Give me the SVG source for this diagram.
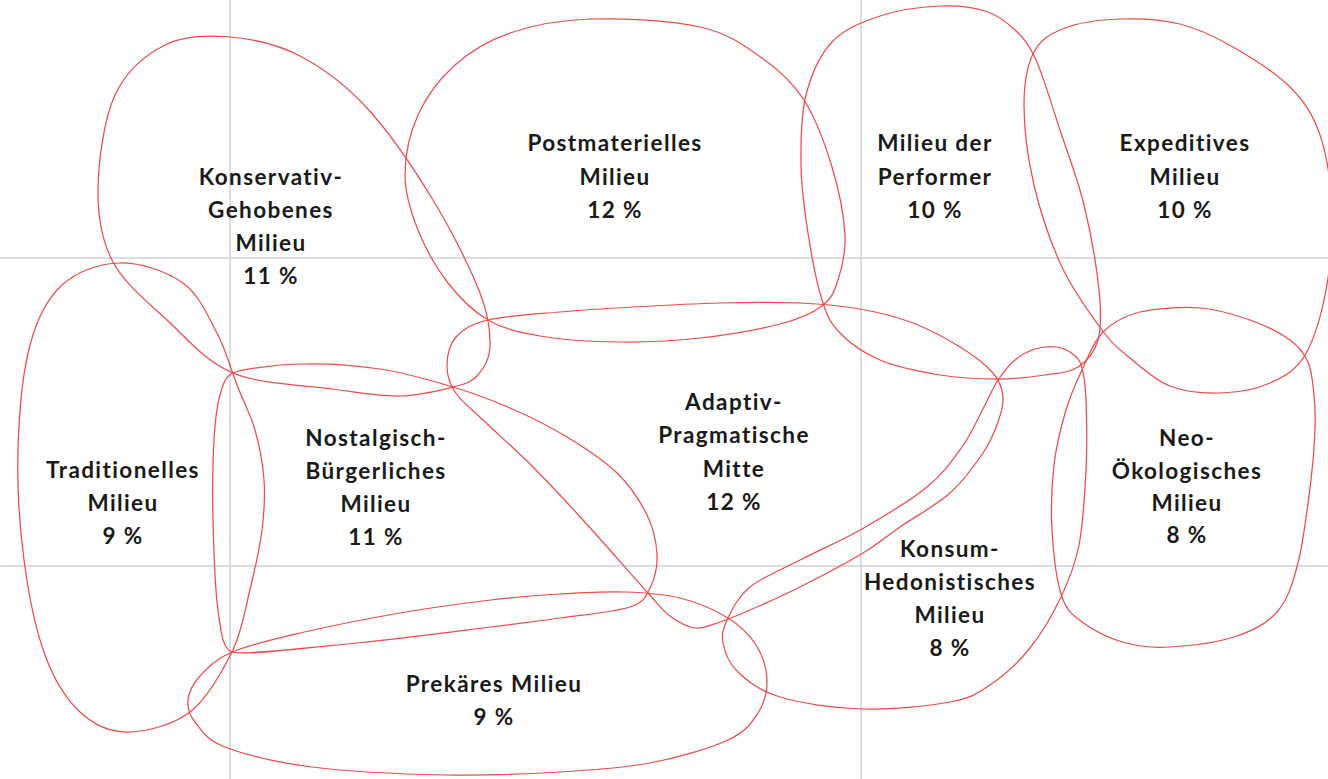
<svg xmlns="http://www.w3.org/2000/svg" width="1328" height="779" viewBox="0 0 1328 779">
<style>
.grid{stroke:#d2d2d2;stroke-width:1.5;fill:none}
.blob{fill:none;stroke:#f04b4b;stroke-width:1.25}
.lbl{font-family:Lato,"Liberation Sans",sans-serif;font-weight:bold;font-size:22.5px;letter-spacing:1.4px;fill:#1a1a1a;text-anchor:middle}
</style>
<rect width="1328" height="779" fill="#ffffff"/>
<g id="grid">
<line class="grid" x1="230" y1="0" x2="230" y2="779"/>
<line class="grid" x1="861" y1="0" x2="861" y2="779"/>
<line class="grid" x1="0" y1="258" x2="1328" y2="258"/>
<line class="grid" x1="0" y1="566" x2="1328" y2="566"/>
</g>
<g id="connectors"></g>
<g id="konservativ-gehobenes">
<path class="blob" d="M 230,37 C 252.5,38.8 277.2,44.2 300,56 S 344.8,84 367,108 S 414.2,169.2 433,200 S 470.5,268.5 480,293 S 490.5,333.2 490,347 S 483.2,369.3 477,376 S 465.8,383.7 453,387 S 420,395.7 400,396 S 360.8,392.8 333,389 S 260.7,384.5 233,373 S 187,338.5 167,320 S 124.5,283.7 113,262 S 97.7,217.8 98,190 S 103.8,119.2 115,95 S 145.8,54.7 165,45 S 207.5,35.2 230,37 Z"/>
<text class="lbl" x="271" y="185">Konservativ-</text>
<text class="lbl" x="271" y="218">Gehobenes</text>
<text class="lbl" x="271" y="251">Milieu</text>
<text class="lbl" x="271" y="284">11 %</text>
</g>
<g id="postmaterielles">
<path class="blob" d="M 590,19 C 621.7,18 671.3,20.5 700,27 S 744.7,45.8 762,58 S 792.3,81.8 804,100 S 825.2,144.5 832,167 S 844,216.2 845,235 S 841.8,268.2 838,280 S 831.7,298.7 822,306 S 800.3,318.7 780,324 S 726.7,335 700,338 S 646.7,342.3 620,342 S 562,339.7 540,336 S 503.3,328.8 488,320 S 459.7,298 448,283 S 425.2,248 418,230 S 405,194.2 405,175 S 409.7,133.3 418,115 S 439.7,78.7 455,65 S 487.5,40.7 510,33 S 558.3,20 590,19 Z"/>
<text class="lbl" x="615" y="151">Postmaterielles</text>
<text class="lbl" x="615" y="185">Milieu</text>
<text class="lbl" x="615" y="218">12 %</text>
</g>
<g id="performer">
<path class="blob" d="M 940,6 C 957.5,5.2 972.5,7 985,11 S 1006.5,21.8 1015,30 S 1028.5,43.3 1036,60 S 1052,105.8 1060,130 S 1077.5,178.3 1084,205 S 1096.7,267.5 1099,290 S 1101.5,327.2 1098,340 S 1086.8,361.2 1078,367 S 1058.3,373 1045,375 S 1015.5,379 998,379 S 959.7,378.2 940,375 S 896.7,367 880,360 S 849.7,343 840,333 S 827.3,316.7 822,300 S 811.5,255.5 808,233 S 801.3,188 801,165 S 800.8,115.5 806,95 S 819.7,55.2 832,42 S 862,22 880,16 S 922.5,6.8 940,6 Z"/>
<text class="lbl" x="935" y="151">Milieu der</text>
<text class="lbl" x="935" y="185">Performer</text>
<text class="lbl" x="935" y="218">10 %</text>
</g>
<g id="expeditives">
<path class="blob" d="M 1120,19 C 1139.2,18.3 1161.2,19.3 1180,24 S 1214.7,36.5 1233,47 S 1275.5,72.3 1290,87 S 1313,114.5 1320,135 S 1331,184.2 1332,210 S 1330.5,265.8 1326,290 S 1314.3,339.5 1305,355 S 1284.2,376.7 1270,383 S 1236.7,392.5 1220,393 S 1185,391.8 1170,386 S 1141.3,367.3 1130,358 S 1113.3,345.2 1102,330 S 1073.3,291.2 1062,267 S 1040.3,212 1034,185 S 1024,127.2 1024,105 S 1027.2,64.8 1034,52 S 1050.7,33.5 1065,28 S 1100.8,19.7 1120,19 Z"/>
<text class="lbl" x="1185" y="151">Expeditives</text>
<text class="lbl" x="1185" y="185">Milieu</text>
<text class="lbl" x="1185" y="218">10 %</text>
</g>
<g id="traditionelles">
<path class="blob" d="M 120,263 C 140.2,262.7 166.8,271.3 183,283 S 208,316 217,333 S 230.7,368.8 237,385 S 250.5,414.2 255,430 S 262.8,463.3 264,480 S 264.2,512.5 262,530 S 256,564.7 251,585 S 242.2,631.8 232,652 S 207.5,698.7 190,712 S 145.3,732 127,732 S 93.7,724.8 80,712 S 54.3,680.3 45,655 S 28.5,594.2 24,560 S 17,485.8 18,450 S 22.7,372.5 30,345 S 47,298.7 62,285 S 99.8,263.3 120,263 Z"/>
<text class="lbl" x="123" y="478">Traditionelles</text>
<text class="lbl" x="123" y="511">Milieu</text>
<text class="lbl" x="123" y="544">9 %</text>
</g>
<g id="nostalgisch-buergerliches">
<path class="blob" d="M 233,373 C 241,369 275.5,364.7 300,364 S 354.5,365.2 380,369 S 431.3,380.5 453,387 S 491,399.7 510,408 S 549.2,426.2 567,437 S 603.7,460 617,473 S 640.3,501.3 647,515 S 656.5,542.8 657,555 S 654.5,579.3 650,588 S 645,602 630,607 S 583.2,614.7 560,618 S 524.8,622.8 491,627 S 400.2,638.8 357,643 S 242,656 232,652 S 221.2,632 218,610 S 213.7,548.3 213,520 S 212.8,460.8 214,440 S 216.8,406.2 220,395 S 225,377 233,373 Z"/>
<text class="lbl" x="376" y="446">Nostalgisch-</text>
<text class="lbl" x="376" y="479">Bürgerliches</text>
<text class="lbl" x="376" y="512">Milieu</text>
<text class="lbl" x="376" y="545">11 %</text>
</g>
<g id="adaptiv-pragmatische">
<path class="blob" d="M 488,320 C 505.3,315.8 535.8,314.2 560,312 S 606.3,308.5 633,307 S 692.2,303.7 720,303 S 776.7,302 800,303 S 841.2,305.7 860,309 S 896.3,316.7 913,323 S 946.7,338.7 960,347 S 985.8,364.7 993,373 S 1002.2,388.8 1003,397 S 1001.3,412.7 998,422 S 991,441.2 983,453 S 963.8,480.7 950,493 S 914.5,517 900,527 S 879.7,543 863,553 S 818.8,577.5 800,587 S 763.3,604.2 750,610 S 729.2,619 720,622 S 703.3,629 695,628 S 677.8,621.8 670,616 S 662.5,609 648,593 S 602.2,541 583,520 S 549.7,483.7 533,467 S 496,432.5 483,420 S 461,401.2 455,392 S 446.8,374.2 447,365 S 449.2,344.5 456,337 S 470.7,324.2 488,320 Z"/>
<text class="lbl" x="734" y="410">Adaptiv-</text>
<text class="lbl" x="734" y="443">Pragmatische</text>
<text class="lbl" x="734" y="477">Mitte</text>
<text class="lbl" x="734" y="510">12 %</text>
</g>
<g id="konsum-hedonistisches">
<path class="blob" d="M 728,618 C 732.5,608.7 738,596.7 750,587 S 781.3,569.7 800,560 S 840.8,541.2 862,529 S 910.3,500.7 927,487 S 952.5,460.3 962,447 S 978,418.2 984,407 S 992.8,387.8 998,380 S 1008.8,365.2 1015,360 S 1028,351.2 1035,349 S 1050.5,346 1057,347 S 1069.8,351.5 1074,355 S 1080,360.5 1082,368 S 1085.3,383 1086,400 S 1087.2,445.8 1086,470 S 1083.2,523.8 1079,545 S 1069.2,579.8 1061,597 S 1041.8,633.3 1030,648 S 1003.3,676 990,685 S 971.3,698 950,702 S 890.3,709.8 862,709 S 800.7,703.2 780,697 S 747.5,681 738,672 S 724.7,652 723,643 S 723.5,627.3 728,618 Z"/>
<text class="lbl" x="950" y="557">Konsum-</text>
<text class="lbl" x="950" y="590">Hedonistisches</text>
<text class="lbl" x="950" y="623">Milieu</text>
<text class="lbl" x="950" y="656">8 %</text>
</g>
<g id="neo-oekologisches">
<path class="blob" d="M 1200,308 C 1218.3,309.3 1235,314.7 1250,320 S 1280.3,333 1290,340 S 1304,352.8 1308,362 S 1312.8,383.7 1314,395 S 1315.5,415.8 1315,430 S 1313.8,457.8 1311,480 S 1303.7,541 1298,563 S 1287.7,599.7 1277,612 S 1252,631.2 1234,637 S 1187,646 1169,647 S 1140,646.8 1126,643 S 1095.7,631.7 1085,624 S 1067.5,612.7 1062,597 S 1053.3,552 1052,530 S 1051.7,485 1054,465 S 1061.3,425.8 1066,410 S 1075.8,383 1082,370 S 1093.3,341.7 1103,332 S 1123.8,316 1140,312 S 1181.7,306.7 1200,308 Z"/>
<text class="lbl" x="1187" y="446">Neo-</text>
<text class="lbl" x="1187" y="479">Ökologisches</text>
<text class="lbl" x="1187" y="511">Milieu</text>
<text class="lbl" x="1187" y="543">8 %</text>
</g>
<g id="prekaeres">
<path class="blob" d="M 232,652 C 248.7,644.8 272,639.5 300,633 S 368.2,618.5 400,613 S 464.3,603.2 491,600 S 537.7,595.3 560,594 S 605,591.3 625,592 S 662.8,593.7 680,598 S 715.3,610.2 728,618 S 749.5,634.7 756,645 S 766.7,668.7 767,680 S 764.5,703 758,713 S 746,731.7 728,740 S 678,757.7 650,763 S 594,770 560,772 S 487.3,775.8 446,775 S 348.8,771.7 312,767 S 244.5,754.5 225,747 S 201.2,729.8 195,722 S 187.2,707.7 188,700 S 192.7,684 200,676 S 215.3,659.2 232,652 Z"/>
<text class="lbl" x="494" y="692">Prekäres Milieu</text>
<text class="lbl" x="494" y="725">9 %</text>
</g>
</svg>
